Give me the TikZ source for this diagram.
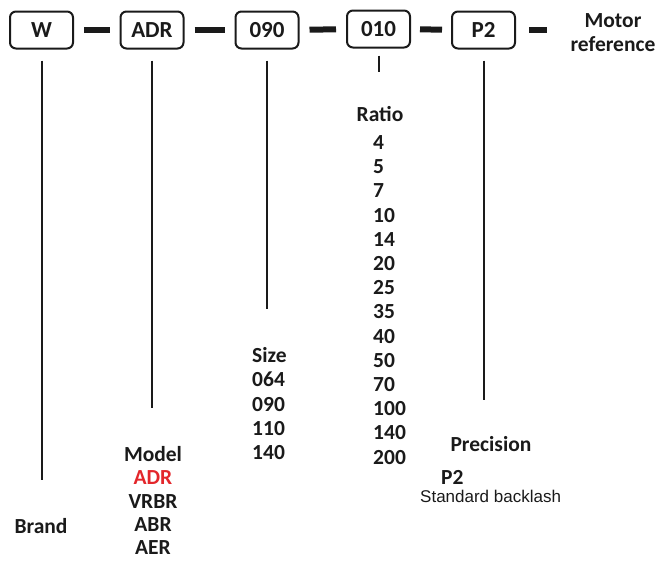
\documentclass[tikz,border=0pt]{standalone}
\usepackage{fontspec}
\setmainfont{Carlito}
\newfontfamily\backlashfont{Liberation Sans}
\usetikzlibrary{positioning}
\definecolor{ink}{HTML}{1A1A1A}
\definecolor{codered}{HTML}{E3262B}

\begin{document}
\begin{tikzpicture}[x=1pt,y=-1pt,font=\fontsize{21.5}{24}\selectfont\bfseries,
  every node/.style={text=ink,inner sep=2pt},
  code/.style={draw=ink,line width=2pt,rounded corners=6pt,minimum width=63pt,
    minimum height=37pt,inner sep=0pt,font=\fontsize{23}{24}\selectfont\bfseries},
  lbl/.style={text height=14pt,text depth=3pt,inner sep=1pt},
  link/.style={ink,line width=6pt,shorten <=10pt,shorten >=10pt},
  stem/.style={ink,line width=2pt,shorten <=11pt,shorten >=48pt}]
\useasboundingbox (0,0) rectangle (655,560);
% code boxes
\node[code] (w) at (41.5,30) {W};
\node[code] (adr) at (152,30) {ADR};
\node[code] (size) at (267,30) {090};
\node[code] (ratio) at (378.5,29) {010};
\node[code] (prec) at (483.5,30) {P2};
\node[align=center] (motor) at (613,33) {Motor\\reference};
\draw[link] (w) -- (adr);
\draw[link] (adr) -- (size);
\draw[link] (size) -- (ratio);
\draw[link,shorten <=9pt,shorten >=9pt] (ratio) -- (prec);
\draw[link,shorten <=13pt,shorten >=21pt] (prec) -- (prec -| motor.west);
% brand
\node[lbl] (brand) at (41,528) {Brand};
% model
\node[lbl] (model) at (153,456) {Model};
\node[lbl,text=codered] (m1) at (153,479.3) {ADR};
\foreach \mdl [count=\i from 2] in {VRBR,ABR,AER}
  \node[lbl] (m\i) at (153,456+23.3*\i) {\mdl};
% size
\node[lbl,anchor=west] (sizehead) at (251,357) {Size};
\foreach \sz [count=\i] in {064,090,110,140}
  \node[lbl,anchor=west] (s\i) at (251,357+24.3*\i) {\sz};
% ratio
\node[lbl] (ratiohead) at (380,116) {Ratio};
\foreach \rt [count=\i] in {4,5,7,10,14,20,25,35,40,50,70,100,140,200}
  \node[lbl,anchor=west] (r\i) at (372,119.8+24.2*\i) {\rt};
% precision
\node[lbl] (prechead) at (491,446) {Precision};
\node[lbl,anchor=west] (p2) at (440,479) {P2};
\node[anchor=west,font=\backlashfont\fontsize{17}{20}\selectfont] (backlash) at (418,496) {Standard backlash};
% stems
\draw[stem] (w) -- (w |- brand);
\draw[stem] (adr) -- (adr |- model);
\draw[stem] (size) -- (size |- sizehead);
\draw[stem,shorten <=7pt,shorten >=44pt] (ratio) -- (ratio |- ratiohead);
\draw[stem,shorten >=46pt] (prec) -- (prec |- prechead);
\end{tikzpicture}
\end{document}
